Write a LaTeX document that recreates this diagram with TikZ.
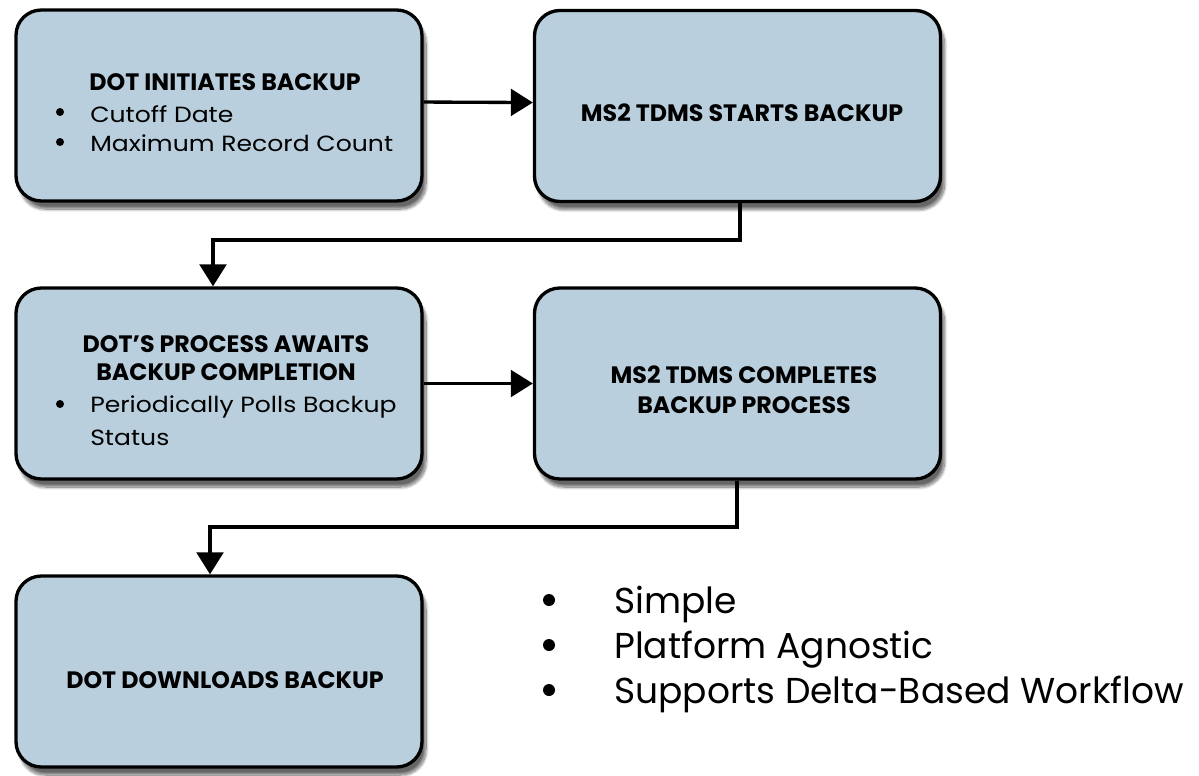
\documentclass[tikz,border=0pt]{standalone}
\usepackage{fontspec}
\setmainfont{Poppins}
\newfontfamily\bodyfont[FakeStretch=1.14]{Poppins}
\usetikzlibrary{arrows.meta,shadows.blur}
\definecolor{boxfill}{RGB}{185,207,221}
\tikzset{
  box/.style={draw=black, line width=2.5pt, fill=boxfill, rounded corners=19pt,
    minimum width=304.5pt, minimum height=143.25pt, inner sep=0pt,
    blur shadow={shadow xshift=3pt, shadow yshift=-6pt, shadow blur steps=14, shadow opacity=60}},
  ttl/.style={font=\fontsize{17.8}{20}\selectfont\bfseries, inner sep=0pt},
  bod/.style={font=\bodyfont\fontsize{16.5}{20}\selectfont, inner sep=0pt, anchor=base west},
  bul/.style={circle, fill=black, draw=none, inner sep=0pt, minimum size=6pt},
  big/.style={font=\fontsize{27}{32}\selectfont, inner sep=0pt, anchor=base west},
  bigbul/.style={circle, fill=black, draw=none, inner sep=0pt, minimum size=9pt},
  arr/.style={line width=2.5pt, -{Triangle[length=16.5pt,width=20pt]}}
}
\begin{document}
\begin{tikzpicture}[x=0.75pt,y=-0.75pt]
\useasboundingbox (0,0) rectangle (1199,775);
\node[box] (b1) at (219,105.5) {};
\node[box] (b2) at (737.5,106) {};
\node[box] (b3) at (219,383.5) {};
\node[box] (b4) at (737.5,383.5) {};
\node[box] (b5) at (219,671.5) {};
% box 1 text
\node[ttl, anchor=base] (t1) at (225,90) {DOT INITIATES BACKUP};
\node[bul] (t1b1) at (60,112) {};
\node[bod] (t1a) at (90,122) {Cutoff Date};
\node[bul] (t1b2) at (60,142) {};
\node[bod] (t1c) at (90,151) {Maximum Record Count};
% box 2 text
\node[ttl, anchor=base] (t2) at (742,121) {MS2 TDMS STARTS BACKUP};
% box 3 text
\node[ttl, anchor=base] (t3a) at (226,352) {DOT’S PROCESS AWAITS};
\node[ttl, anchor=base] (t3b) at (226,380) {BACKUP COMPLETION};
\node[bul] (t3bul) at (60,404) {};
\node[bod] (t3c) at (90,412) {Periodically Polls Backup};
\node[bod] (t3d) at (90,445) {Status};
% box 4 text
\node[ttl, anchor=base] (t4a) at (744,383) {MS2 TDMS COMPLETES};
\node[ttl, anchor=base] (t4b) at (744,413) {BACKUP PROCESS};
% box 5 text
\node[ttl, anchor=base] (t5) at (225,688) {DOT DOWNLOADS BACKUP};
% right list
\node[bigbul] (r1b) at (549,600) {};
\node[big] (r1) at (614,613) {Simple};
\node[bigbul] (r2b) at (549,645) {};
\node[big] (r2) at (614,658) {Platform Agnostic};
\node[bigbul] (r3b) at (549,690) {};
\node[big] (r3) at (614,703) {Supports Delta-Based Workflow};
% connectors
\draw[arr] ([yshift=2.6pt]b1.east) -- ([yshift=2.6pt]b2.west);
\draw[arr] (b3.east) -- (b4.west);
\coordinate (k1) at (740,240);
\coordinate (k2) at (213,240);
\draw[arr] (b2.south -| k1) -- (k1) -- (k2) -- (k2 |- b3.north);
\coordinate (k3) at (737,527);
\coordinate (k4) at (210,527);
\draw[arr] (b4.south -| k3) -- (k3) -- (k4) -- (k4 |- b5.north);
\end{tikzpicture}
\end{document}
